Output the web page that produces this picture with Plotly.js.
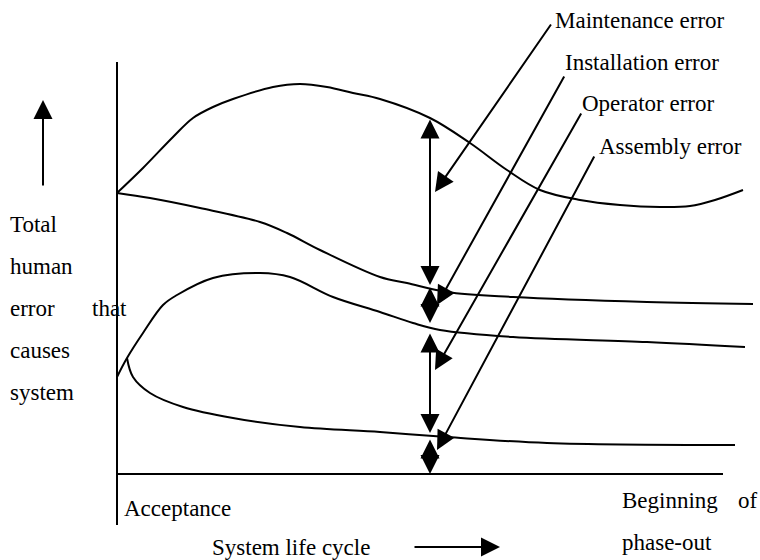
<!DOCTYPE html>
<html>
<head>
<meta charset="utf-8">
<script src="https://cdn.plot.ly/plotly-3.0.1.min.js"></script>
<style>
  html, body { margin: 0; padding: 0; background: #fff; }
  #chart { width: 760px; height: 560px; }
</style>
</head>
<body>
<div id="chart"></div>
<script>
// schematic: coordinates are in a 760 x 560 drawing space (y grows downwards)

// curve boundaries between the error types
const totalX = [117, 143, 173, 193, 213, 233, 273, 300, 327, 353, 380, 430, 470, 507, 540, 580, 620, 660, 690, 715, 743];
const totalY = [193, 168, 137, 118, 107, 99, 87, 84, 87, 93, 99, 118, 143, 170, 190, 200, 205, 207, 206, 200, 190];

const installX = [117, 150, 200, 260, 287, 320, 380, 407, 447, 513, 647, 753];
const installY = [193, 198, 208, 222, 233, 250, 277, 283, 292, 297, 302, 304];

const operatorX = [117, 127, 143, 163, 177, 213, 260, 290, 333, 380, 413, 440, 513, 647, 745];
const operatorY = [377, 358, 333, 305, 295, 278, 273, 277, 297, 312, 323, 330, 337, 342, 347];

const assemblyX = [127, 133, 150, 183, 233, 300, 380, 447, 547, 735];
const assemblyY = [358, 377, 393, 407, 418, 427, 432, 437, 443, 445];

// axes of the sketch
const vAxisX = [117, 117];
const vAxisY = [62, 525];
const hAxisX = [117, 723];
const hAxisY = [474, 474];

// double arrows measuring each error band
const gapX = 430;
const gapTop = [118, 286, 332, 438];
const gapBottom = [285, 323, 433, 474];

// leader arrows with their labels
const leaderLabels = ['Maintenance error', 'Installation error', 'Operator error', 'Assembly error'];
const leaderTailX = [552, 565, 582, 595];
const leaderTailY = [23, 75, 112, 155];
const leaderHeadX = [435, 437, 435, 437];
const leaderHeadY = [192, 305, 370, 450];
const labelX = [553, 563, 580, 597];
const labelY = [20, 62, 103, 146];

// side texts
const yLabelLines = ['Total', 'human', 'error', 'causes', 'system'];
const yLabelY = [224, 266, 308, 350, 392];

const font = { family: 'Liberation Serif, Times New Roman, serif', size: 23, color: '#000' };
const ink = { color: '#000', width: 2 };

function curve(x, y) {
  return { x: x, y: y, mode: 'lines', type: 'scatter', line: Object.assign({ shape: 'spline', smoothing: 1 }, ink), hoverinfo: 'skip' };
}
function straight(x, y) {
  return { x: x, y: y, mode: 'lines', type: 'scatter', line: ink, hoverinfo: 'skip' };
}

const data = [
  curve(totalX, totalY),
  curve(installX, installY),
  curve(operatorX, operatorY),
  curve(assemblyX, assemblyY),
  straight(vAxisX, vAxisY),
  straight(hAxisX, hAxisY)
];

function text(t, x, y, anchor) {
  return { text: t, x: x, y: y, xref: 'x', yref: 'y', showarrow: false, xanchor: anchor || 'left', yanchor: 'middle', font: font };
}
function arrow(x, y, ax, ay, both) {
  const a = {
    text: '', x: x, y: y, ax: ax, ay: ay, xref: 'x', yref: 'y', axref: 'x', ayref: 'y',
    showarrow: true, arrowhead: 2, arrowsize: 1.9, arrowwidth: 2, arrowcolor: '#000', standoff: 0, startstandoff: 0
  };
  if (both) {
    a.arrowside = 'end+start';
    a.startarrowhead = 2;
    a.startarrowsize = 1.9;
  }
  return a;
}

const annotations = [];
gapTop.forEach((t, i) => annotations.push(arrow(gapX, gapBottom[i], gapX, t, true)));
leaderLabels.forEach((lab, i) => {
  annotations.push(arrow(leaderHeadX[i], leaderHeadY[i], leaderTailX[i], leaderTailY[i], false));
  annotations.push(text(lab, labelX[i], labelY[i]));
});
yLabelLines.forEach((t, i) => annotations.push(text(t, 8, yLabelY[i])));
annotations.push(text('that', 90, yLabelY[2]));
annotations.push(text('Acceptance', 122, 508));
annotations.push(text('Beginning', 620, 500));
annotations.push(text('of', 736, 500));
annotations.push(text('phase-out', 620, 542));
annotations.push(text('System life cycle', 210, 547));
annotations.push(arrow(500, 547, 413, 547, false));
// up arrow next to the y label
annotations.push(arrow(43, 100, 43, 187, false));

const layout = {
  width: 760,
  height: 560,
  margin: { l: 0, r: 0, t: 0, b: 0 },
  paper_bgcolor: '#fff',
  plot_bgcolor: '#fff',
  showlegend: false,
  xaxis: { range: [0, 760], visible: false, fixedrange: true },
  yaxis: { range: [560, 0], visible: false, fixedrange: true },
  annotations: annotations
};

Plotly.newPlot('chart', data, layout, { staticPlot: true });
</script>
</body>
</html>
